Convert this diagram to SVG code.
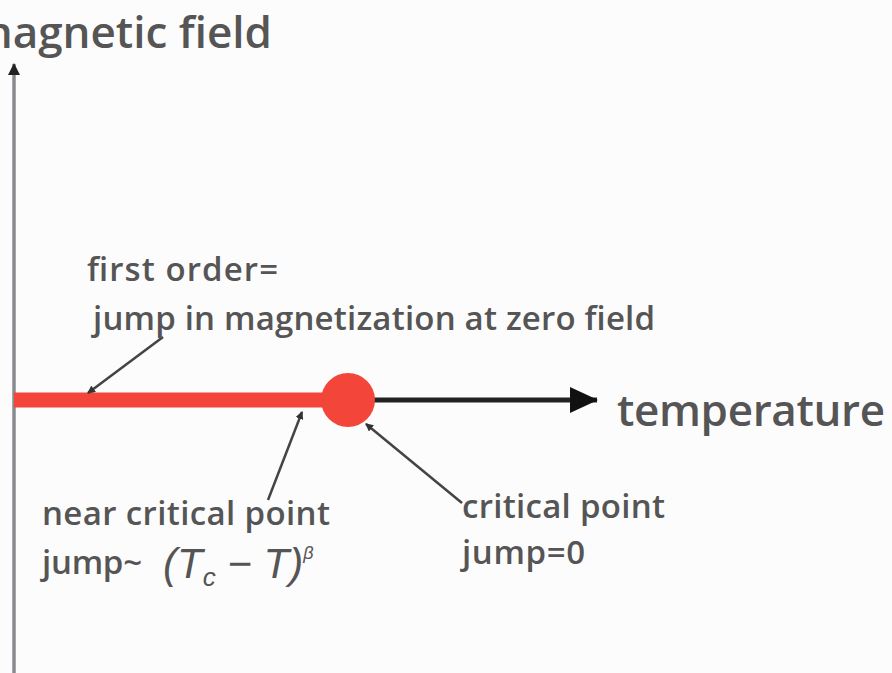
<svg xmlns="http://www.w3.org/2000/svg" width="892" height="673" viewBox="0 0 892 673">
<defs>
<style>
.t{font-family:"Open Sans","Liberation Sans",sans-serif;fill:#555;font-weight:600;}
.lbl{font-size:33px;}
.ax{font-size:44px;}
.m{font-family:"Liberation Sans",sans-serif;font-style:italic;font-size:42px;fill:#555;}
.pt{stroke:#444;stroke-width:2.5;fill:none;}
</style>
<marker id="sm" markerWidth="8" markerHeight="8" refX="7" refY="4" orient="auto" markerUnits="userSpaceOnUse" viewBox="0 0 8 8"><path d="M0,0 L8,4 L0,8 z" fill="#333"/></marker>
<marker id="big" markerWidth="28" markerHeight="26" refX="27" refY="13" orient="auto" markerUnits="userSpaceOnUse" viewBox="0 0 28 26"><path d="M0,0 L28,13 L0,26 z" fill="#111"/></marker>
<marker id="up" markerWidth="12" markerHeight="16" refX="11" refY="6" orient="auto" markerUnits="userSpaceOnUse" viewBox="0 0 12 12"><path d="M0,0 L12,6 L0,12 z" fill="#222"/></marker>
</defs>
<rect width="892" height="673" fill="#fdfcfd"/>
<g id="axes">
<line x1="14" y1="673" x2="14" y2="64" stroke="#8a8a8e" stroke-width="3.5" marker-end="url(#up)"/>
<line x1="370" y1="400" x2="597" y2="400" stroke="#222" stroke-width="5" marker-end="url(#big)"/>
</g>
<g id="first-order-line">
<line x1="14" y1="400" x2="340" y2="400" stroke="#f4453b" stroke-width="15"/>
</g>
<g id="critical-point">
<circle cx="348" cy="400" r="27" fill="#f4453b"/>
</g>
<g id="connectors">
<line class="pt" x1="163" y1="337" x2="88" y2="393" marker-end="url(#sm)"/>
<line class="pt" x1="268" y1="500" x2="302" y2="412" marker-end="url(#sm)"/>
<line class="pt" x1="462" y1="503" x2="366" y2="424" marker-end="url(#sm)"/>
</g>
<g id="labels">
<text class="t ax" x="272" y="48" text-anchor="end">magnetic field</text>
<text class="t ax" x="617" y="426" textLength="268">temperature</text>
<text class="t lbl" x="87" y="281" textLength="191">first order=</text>
<text class="t lbl" x="93" y="330" textLength="562">jump in magnetization at zero field</text>
<text class="t lbl" x="42" y="525" textLength="288">near critical point</text>
<text class="t lbl" x="42" y="574" textLength="100">jump~</text>
<text class="m" x="163" y="578">(<tspan>T</tspan><tspan font-size="26" dy="8">c</tspan><tspan dy="-8"> − T)</tspan><tspan font-size="18" dy="-19">β</tspan></text>
<text class="t lbl" x="462" y="518" textLength="203">critical point</text>
<text class="t lbl" x="462" y="564" textLength="123">jump=0</text>
</g>
</svg>
